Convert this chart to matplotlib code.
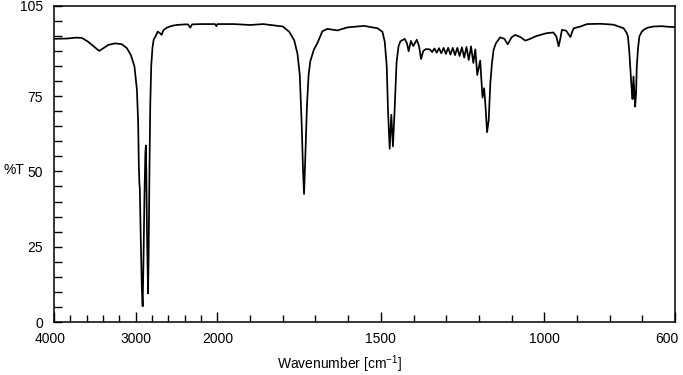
import numpy as np
import matplotlib
matplotlib.use("Agg")
import matplotlib.pyplot as plt
from matplotlib.ticker import FixedLocator, FixedFormatter, NullFormatter
from matplotlib.transforms import ScaledTranslation

plt.rcParams['font.family'] = ['Liberation Sans', 'DejaVu Sans']
plt.rcParams['mathtext.fontset'] = 'custom'
plt.rcParams['mathtext.rm'] = 'Liberation Sans'
plt.rcParams['mathtext.it'] = 'Liberation Sans'
plt.rcParams['mathtext.bf'] = 'Liberation Sans'

# Spectrum: wavenumber (cm-1) and %T
wavenumber = [
    4000, 3844, 3722, 3660, 3591, 3518, 3448, 3395, 3334, 3251, 3169, 3108, 3059, 3015,
    2985, 2970, 2962, 2955, 2950, 2940, 2925, 2915, 2905, 2893, 2882, 2876, 2870, 2862,
    2849, 2842, 2832, 2822, 2810, 2795, 2780, 2760, 2730, 2700, 2683, 2660, 2620, 2560,
    2500, 2400, 2360, 2333, 2310, 2200, 2100, 2030, 2012, 2000,
    1950, 1900, 1860, 1800, 1780, 1765, 1755, 1748, 1742, 1738, 1735, 1731, 1726, 1721,
    1716, 1705, 1694, 1679, 1664, 1645, 1633, 1602, 1551, 1510, 1495, 1488, 1482, 1478,
    1473, 1468, 1463, 1458, 1452, 1446, 1440, 1427, 1420, 1415, 1408, 1401, 1390, 1383,
    1377, 1370, 1362,
    1350, 1343, 1336, 1329, 1322, 1315, 1308, 1301, 1294, 1287, 1280, 1273, 1266, 1259,
    1252, 1245, 1238, 1231, 1224, 1217, 1211,
    1205, 1196, 1189, 1184, 1180, 1175, 1170, 1165, 1160, 1155, 1148, 1140, 1135, 1122,
    1112, 1100, 1089, 1073, 1058, 1043, 1027, 1012, 992, 972, 963, 956, 951, 946, 933,
    920, 914, 910, 889, 869, 828, 788, 757, 748, 744, 740, 737, 733, 730, 727, 722, 719,
    717, 713, 709, 702, 696, 684, 665, 640, 620, 600,
]
transmittance = [
    94.0, 94.1, 94.4, 94.3, 93.2, 91.6, 90.0, 90.9, 92.0, 92.5, 92.2, 90.9, 88.6, 84.8,
    77.0, 66.0, 52.0, 46.0, 44.5, 30.0, 11.0, 5.2, 20.0, 42.0, 56.0, 58.6, 50.0, 30.0,
    9.5, 22.0, 50.0, 72.0, 85.0, 91.0, 93.8, 94.7, 96.4, 95.8, 95.3, 96.9, 97.7, 98.3,
    98.6, 98.8, 98.8, 97.7, 98.8, 98.9, 98.9, 98.9, 98.2, 98.9,
    98.9, 98.6, 98.9, 98.1, 96.3, 93.5, 89.0, 82.0, 65.0, 50.0, 42.5, 55.0, 72.0, 82.0,
    86.5, 90.4, 92.6, 96.5, 97.3, 97.0, 96.8, 97.8, 98.3, 97.5, 96.3, 93.0, 85.0, 70.0,
    57.5, 68.8, 58.3, 70.0, 86.0, 91.5, 93.2, 94.0, 92.5, 89.9, 93.3, 91.6, 93.7, 91.5,
    87.3, 90.0, 90.6,
    90.5, 89.6, 90.8, 89.4, 90.9, 89.2, 91.0, 89.0, 91.0, 88.8, 91.0, 88.6, 91.0, 88.3,
    91.2, 87.8, 91.3, 87.0, 91.5, 86.0, 90.5,
    82.0, 86.8, 74.5, 77.6, 72.0, 63.0, 67.0, 79.3, 86.0, 90.4, 92.5, 93.7, 94.5, 94.0,
    92.2, 94.5, 95.3, 94.6, 93.4, 94.0, 94.8, 95.3, 95.9, 96.1, 94.8, 91.5, 94.0, 97.0, 96.7,
    94.6, 96.5, 97.5, 98.1, 98.9, 99.0, 98.7, 97.5, 96.0, 94.8, 90.0, 84.8, 78.0, 74.0, 81.5, 71.5, 76.0,
    84.8, 91.0, 94.8, 96.3, 97.0, 97.7, 98.1, 98.2, 98.0, 97.9,
]

x_major = [4000, 3000, 2000, 1500, 1000, 600]
x_major_labels = ["4000", "3000", "2000", "1500", "1000", "600"]
x_minor = [3800, 3600, 3400, 3200, 2800, 2600, 2400, 2200,
           1900, 1800, 1700, 1600, 1400, 1300, 1200, 1100, 900, 800, 700]
y_major = [0, 25, 50, 75, 105]
y_major_labels = ["0", "25", "50", "75", "105"]
y_minor = list(range(5, 105, 5))


def forward(x):
    x = np.asarray(x, dtype=float)
    return np.where(x <= 2000, x, 2000 + (x - 2000) / 4.0)


def inverse(t):
    t = np.asarray(t, dtype=float)
    return np.where(t <= 2000, t, 2000 + (t - 2000) * 4.0)


fig = plt.figure(figsize=(6.83, 3.75), dpi=100)
ax = fig.add_axes([54 / 683, 1 - 322 / 375, (675 - 54) / 683, (322 - 5.7) / 375])
ax.set_xscale('function', functions=(forward, inverse))
ax.plot(wavenumber, transmittance, color='black', lw=1.25, solid_joinstyle='round')
ax.set_xlim(4000, 600)
ax.set_ylim(0, 105)

ax.xaxis.set_major_locator(FixedLocator(x_major))
ax.xaxis.set_major_formatter(FixedFormatter(x_major_labels))
ax.xaxis.set_minor_locator(FixedLocator(x_minor))
ax.xaxis.set_minor_formatter(NullFormatter())
ax.yaxis.set_major_locator(FixedLocator(y_major))
ax.yaxis.set_major_formatter(FixedFormatter(y_major_labels))
ax.yaxis.set_minor_locator(FixedLocator(y_minor))
ax.yaxis.set_minor_formatter(NullFormatter())

ax.tick_params(axis='x', which='major', direction='in', length=7.5, width=1.0,
               labelsize=10, pad=7)
ax.tick_params(axis='x', which='minor', direction='in', length=5, width=1.0)
ax.tick_params(axis='y', which='major', direction='in', length=5.5, width=1.0,
               labelsize=10, pad=8)
ax.tick_params(axis='y', which='minor', direction='in', length=5.5, width=1.0)
for s in ax.spines.values():
    s.set_linewidth(1.1)

# nudge the end labels inward like the reference
fig.canvas.draw()
xlabels = ax.get_xticklabels()
xlabels[0].set_transform(xlabels[0].get_transform() +
                         ScaledTranslation(-4 / 100, 0, fig.dpi_scale_trans))
xlabels[-1].set_transform(xlabels[-1].get_transform() +
                          ScaledTranslation(-8 / 100, 0, fig.dpi_scale_trans))

fig.text(14 / 683, 1 - 170 / 375, "%T", ha='center', va='center', fontsize=10)
fig.text(340 / 683, 1 - 364 / 375, "Wavenumber [cm$^{-1}$]", ha='center', va='center',
         fontsize=10)

fig.savefig("out.png", dpi=100)
